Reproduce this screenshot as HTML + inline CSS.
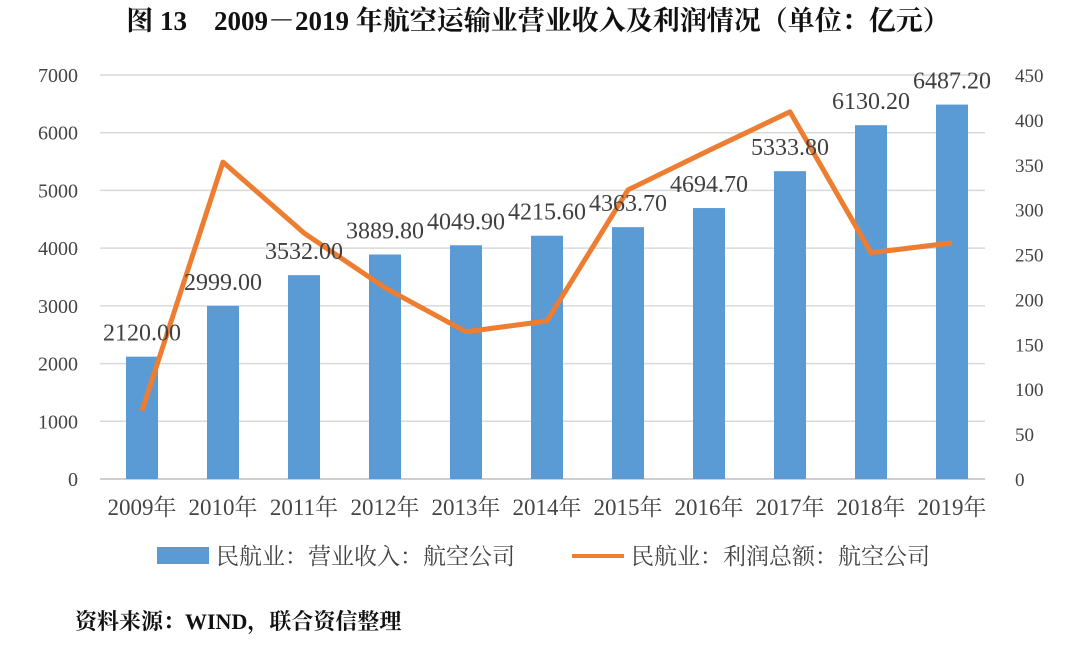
<!DOCTYPE html>
<html><head><meta charset="utf-8"><style>
body{margin:0;background:#fff;width:1080px;height:641px;overflow:hidden}
svg text{font-family:"Liberation Serif","Noto Serif CJK SC",serif}
</style></head><body>
<svg id="c" width="1080" height="641">
<text x="538" y="30" text-anchor="middle" font-size="27" font-weight="bold" fill="#111">图 13　2009－2019 年航空运输业营业收入及利润情况（单位：亿元）</text>
<g id="grid"></g><g id="bars"></g><g id="line"></g><g id="labels"></g><g id="axes"></g>
<g>
<rect x="157" y="547" width="52" height="17" fill="#5b9bd5"/>
<text x="216" y="564" font-size="23" fill="#444">民航业：营业收入：航空公司</text>
<line x1="572" y1="556" x2="624" y2="556" stroke="#ed7d31" stroke-width="4"/>
<text x="631" y="564" font-size="23" fill="#444">民航业：利润总额：航空公司</text>
</g>
<text x="75" y="629" font-size="22" font-weight="bold" fill="#111">资料来源：WIND，联合资信整理</text>
</svg>
<script>
const categories=["2009年","2010年","2011年","2012年","2013年","2014年","2015年","2016年","2017年","2018年","2019年"];
const revenue=[2120.00,2999.00,3532.00,3889.80,4049.90,4215.60,4363.70,4694.70,5333.80,6130.20,6487.20];
const profit=[76,353,274,213,164,176,322,366,409,252,263];
const leftTicks=[0,1000,2000,3000,4000,5000,6000,7000];
const rightTicks=[0,50,100,150,200,250,300,350,400,450];
const NS="http://www.w3.org/2000/svg";
const y0=479,yTop=75;
const yL=v=>y0-(v/7000)*(y0-yTop);
const yR=v=>y0-(v/450)*(y0-yTop);
const xC=i=>142+i*81;
function mk(tag,attrs,parent,txt){const e=document.createElementNS(NS,tag);for(const k in attrs)e.setAttribute(k,attrs[k]);if(txt!=null)e.textContent=txt;document.getElementById(parent).appendChild(e);return e;}
leftTicks.forEach(t=>{
 const g=mk("line",{x1:100,x2:985,y1:yL(t),y2:yL(t),stroke:t===0?"#bfbfbf":"#d9d9d9","stroke-width":1.5},"grid");
 
 
 const l=mk("text",{x:78,y:yL(t)+7,"text-anchor":"end","font-size":20,fill:"#444"},"axes",t);
 
 
});
rightTicks.forEach(t=>{
 const l=mk("text",{x:1015,y:yR(t)+7,"text-anchor":"start","font-size":19,fill:"#444"},"axes",t);
 
 
});
categories.forEach((c,i)=>{
 const b=mk("rect",{x:xC(i)-16,y:yL(revenue[i]),width:32,height:y0-yL(revenue[i]),fill:"#5b9bd5"},"bars");
 
 
 const v=mk("text",{x:xC(i),y:yL(revenue[i])-16,"text-anchor":"middle","font-size":24,fill:"#404040"},"labels",revenue[i].toFixed(2));
 
 
 const x=mk("text",{x:xC(i),y:515,"text-anchor":"middle","font-size":23,fill:"#444"},"axes",c);
 
 
});
const pl=mk("polyline",{points:profit.map((p,i)=>xC(i)+","+yR(p)).join(" "),fill:"none",stroke:"#ed7d31","stroke-width":5,"stroke-linejoin":"round"},"line");


</script>
</body></html>
